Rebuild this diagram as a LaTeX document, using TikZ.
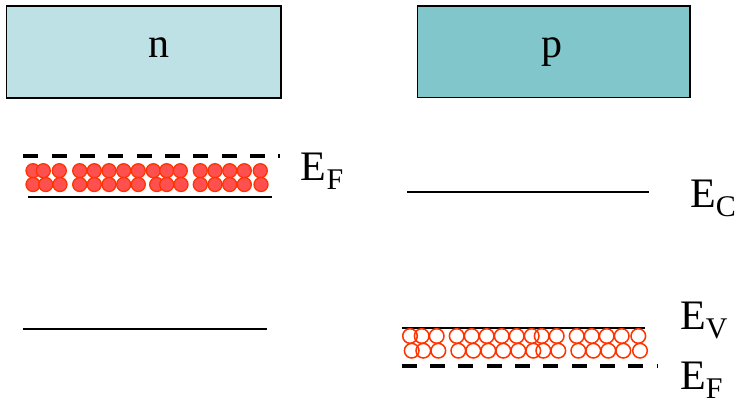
\documentclass[tikz,border=0pt]{standalone}
\usepackage{fontspec}
\setmainfont{Liberation Serif}
\usetikzlibrary{positioning}
\definecolor{nfill}{HTML}{BDE1E4}
\definecolor{pfill}{HTML}{80C6CA}
\definecolor{carrier}{HTML}{FF3300}
\definecolor{electron}{HTML}{FF5050}
\newcommand{\lvl}[1]{E\raisebox{-9pt}{\fontsize{30}{30}\selectfont #1}}

\begin{document}
\begin{tikzpicture}[x=1pt,y=-1pt,
  region/.style={draw,line width=1.5pt,inner sep=0pt,anchor=north west},
  lbl/.style={font=\fontsize{42}{48}\selectfont,inner sep=0pt,anchor=base west},
  band/.style={line width=2pt},
  fermi/.style={line width=3.3pt,dash pattern=on 15pt off 13.33pt},
  elec/.style={draw=carrier,fill=electron,line width=1.3pt},
  hole/.style={draw=carrier,line width=1.5pt}]

\useasboundingbox (0,0) rectangle (738,404);

% the two regions
\node[region,fill=nfill,minimum width=274.5pt,minimum height=91.5pt] (nbox) at (5.5,5.5) {};
\node[region,fill=pfill,minimum width=272.5pt,minimum height=91pt]   (pbox) at (416.5,5.5) {};
\node[lbl,anchor=base] (nlbl) at (158.5,57) {n};
\node[lbl,anchor=base] (plbl) at (552,57) {p};

% n side
\foreach \cx in {33,43.3,59.3,79.7,94.3,109,123.7,138.3,153.3,166.7,180.3,200.3,215,229.7,244.3,260.3}
  \draw[elec] (\cx,170.7) circle (7pt);
\foreach \cx in {33,45.7,60,79.7,94.3,109,123.7,138.3,156.7,166.7,181,200.3,215,229.7,244.3,261}
  \draw[elec] (\cx,184.5) circle (7pt);
\draw[fermi] (23.3,156) -- (280,156);
\draw[band] (28.3,197) -- (271.7,197);
\draw[band] (22.7,329) -- (266.7,329);
\node[lbl] (efn) at (300.7,180) {\lvl{F}};

% p side
\draw[band] (407,192.3) -- (649,192.3);
\draw[band] (401.7,328.3) -- (645,328.3);
\foreach \cx in {410,421.7,436.7,456.7,471.7,486.7,501.7,516.7,531.7,541.7,556.7,576.7,591.7,606.7,621.7,638.3}
  \draw[hole] (\cx,336) circle (7.3pt);
\foreach \cx in {411.7,423.3,438.3,458.3,473.3,488.3,503.3,518.3,533.3,543.3,558.3,578.3,593.3,608.3,623.3,640}
  \draw[hole] (\cx,350.7) circle (7.3pt);
\draw[fermi] (401.7,366) -- (658.3,366);
\node[lbl] (ec)  at (690,207.3) {\lvl{C}};
\node[lbl] (ev)  at (680,329)   {\lvl{V}};
\node[lbl] (efp) at (680,389)   {\lvl{F}};

\end{tikzpicture}
\end{document}
